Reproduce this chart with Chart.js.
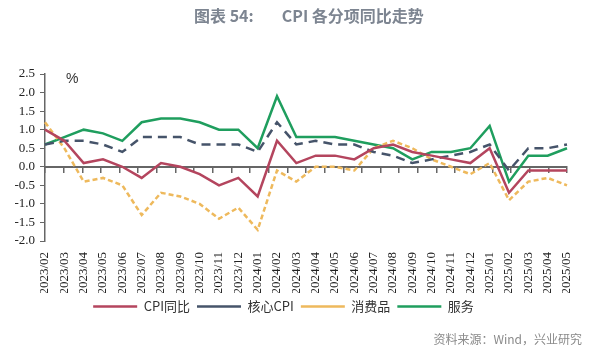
<!DOCTYPE html>
<html>
<head>
<meta charset="utf-8">
<script src="https://cdn.jsdelivr.net/npm/chart.js@4"></script>
<style>
  body { margin: 0; background: #fff; }
  #wrap { position: relative; width: 590px; height: 351px; }
  #title { position: absolute; left: 194px; top: 3px; white-space: nowrap;
    font: bold 16px "Noto Sans CJK SC", sans-serif; color: #7d8591; }
  #title span + span { margin-left: 28px; }
  #unit { position: absolute; left: 66px; top: 70px; font: 14px "Liberation Sans", sans-serif; color: #333; }
  #src { position: absolute; right: 8px; top: 330px; font: 12px "Noto Sans CJK SC", sans-serif; color: #8a8a8a; }
</style>
</head>
<body>
<div id="wrap">
  <canvas id="myChart" width="590" height="351"></canvas>
  <div id="title"><span>图表 54:</span><span>CPI 各分项同比走势</span></div>
  <div id="unit">%</div>
  <div id="src">资料来源：Wind，兴业研究</div>
</div>
<script>
const months = ["2023/02", "2023/03", "2023/04", "2023/05", "2023/06", "2023/07", "2023/08", "2023/09",
  "2023/10", "2023/11", "2023/12", "2024/01", "2024/02", "2024/03", "2024/04", "2024/05", "2024/06",
  "2024/07", "2024/08", "2024/09", "2024/10", "2024/11", "2024/12", "2025/01", "2025/02", "2025/03",
  "2025/04", "2025/05"];
const cpi = [1.0, 0.7, 0.1, 0.2, 0.0, -0.3, 0.1, 0.0, -0.2, -0.5, -0.3, -0.8, 0.7, 0.1, 0.3, 0.3, 0.2,
  0.5, 0.6, 0.4, 0.3, 0.2, 0.1, 0.5, -0.7, -0.1, -0.1, -0.1];
const core = [0.6, 0.7, 0.7, 0.6, 0.4, 0.8, 0.8, 0.8, 0.6, 0.6, 0.6, 0.4, 1.2, 0.6, 0.7, 0.6, 0.6,
  0.4, 0.3, 0.1, 0.2, 0.3, 0.4, 0.6, -0.1, 0.5, 0.5, 0.6];
const goods = [1.2, 0.5, -0.4, -0.3, -0.5, -1.3, -0.7, -0.8, -1.0, -1.4, -1.1, -1.7, -0.1, -0.4, 0.0, 0.0, -0.1,
  0.5, 0.7, 0.5, 0.2, 0.0, -0.2, 0.1, -0.9, -0.4, -0.3, -0.5];
const services = [0.6, 0.8, 1.0, 0.9, 0.7, 1.2, 1.3, 1.3, 1.2, 1.0, 1.0, 0.5, 1.9, 0.8, 0.8, 0.8, 0.7,
  0.6, 0.5, 0.2, 0.4, 0.4, 0.5, 1.1, -0.4, 0.3, 0.3, 0.5];
const yTicks = [-2.0, -1.5, -1.0, -0.5, 0.0, 0.5, 1.0, 1.5, 2.0, 2.5];

const serif = '"Times New Roman", "Liberation Serif", serif';

function line(label, data, color, dash) {
  return {
    label: label,
    data: data,
    borderColor: color,
    backgroundColor: color,
    borderWidth: 2.5,
    borderDash: dash,
    pointRadius: 0,
    pointStyle: 'line',
    tension: 0
  };
}

const ctx = document.getElementById('myChart').getContext('2d');
new Chart(ctx, {
  type: 'line',
  data: {
    labels: months,
    datasets: [
      line('CPI同比', cpi, '#b4455e', []),
      line('核心CPI', core, '#46546a', [9, 6]),
      line('消费品', goods, '#eeb95c', [5, 3]),
      line('服务', services, '#1f9e5e', [])
    ]
  },
  options: {
    responsive: false,
    animation: false,
    layout: { padding: { top: 74, right: 23, bottom: 28, left: 0 } },
    plugins: {
      legend: {
        position: 'bottom',
        labels: {
          usePointStyle: true,
          pointStyleWidth: 44,
          boxHeight: 10,
          padding: 7,
          color: '#333',
          font: { family: 'Noto Sans CJK SC', size: 13 }
        }
      },
      tooltip: { enabled: false }
    },
    scales: {
      x: {
        grid: { display: false },
        border: { display: false },
        ticks: {
          autoSkip: false, maxRotation: 90, minRotation: 90,
          color: '#222', font: { family: serif, size: 13 }, padding: 3
        },
        afterFit: s => { s.height = 52; }
      },
      zero: {
        type: 'category',
        axis: 'x',
        labels: months,
        position: { y: 0 },
        offset: true,
        grid: { display: true, drawOnChartArea: false, offset: true, tickLength: 5, color: '#666', lineWidth: 1.5 },
        border: { display: true, color: '#666', width: 2 },
        ticks: { display: false }
      },
      y: {
        min: -2.0, max: 2.5,
        afterBuildTicks: s => { s.ticks = yTicks.map(v => ({ value: v })); },
        grid: { drawOnChartArea: false, tickLength: 5, color: '#666' },
        border: { color: '#666', width: 1.5 },
        ticks: {
          autoSkip: false,
          color: '#222', padding: 5,
          font: { family: serif, size: 13 },
          callback: v => Number(v).toFixed(1)
        },
        afterFit: s => { s.width = 45; }
      }
    }
  }
});
</script>
</body>
</html>
